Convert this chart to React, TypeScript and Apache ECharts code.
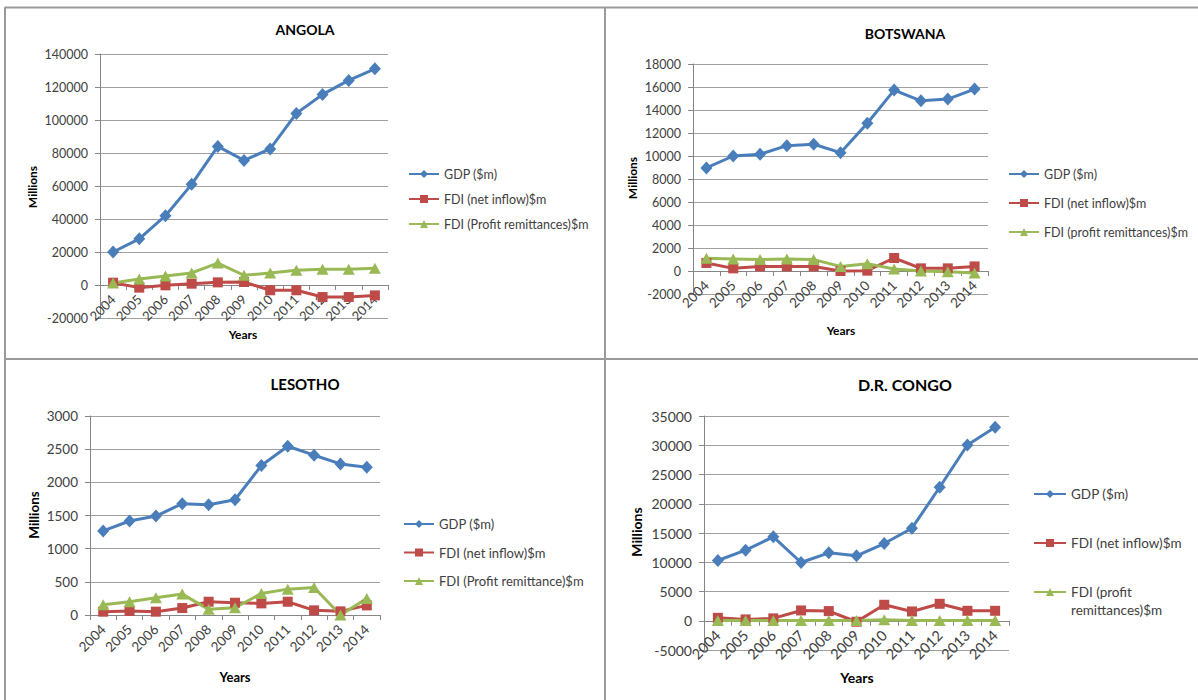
import React, { useEffect, useRef } from "react";
import * as echarts from "echarts";

// Years shared by all four country panels
const years = ["2004", "2005", "2006", "2007", "2008", "2009", "2010", "2011", "2012", "2013", "2014"];

// Angola ($ millions)
const angolaGdp = [20000, 28000, 42000, 61000, 84000, 75500, 82500, 104000, 115500, 124000, 131000];
const angolaFdiNet = [1400, -1600, -200, 800, 1600, 1800, -3200, -3200, -7300, -7300, -6300];
const angolaFdiProfit = [1200, 3600, 5500, 7300, 13300, 5900, 7300, 8900, 9500, 9500, 10100];

// Botswana ($ millions)
const botswanaGdp = [8960, 10000, 10150, 10900, 11020, 10290, 12850, 15730, 14800, 14950, 15820];
const botswanaFdiNet = [700, 230, 400, 400, 400, 0, 30, 1130, 230, 230, 400];
const botswanaFdiProfit = [1100, 1050, 990, 1050, 990, 400, 640, 175, 0, -60, -170];

// Lesotho ($ millions)
const lesothoGdp = [1267, 1417, 1492, 1678, 1662, 1738, 2253, 2544, 2409, 2278, 2228];
const lesothoFdiNet = [50, 60, 50, 105, 200, 185, 175, 200, 70, 55, 145];
const lesothoFdiProfit = [155, 200, 260, 315, 85, 110, 325, 390, 415, 0, 250];

// D.R. Congo ($ millions)
const drcGdp = [10300, 12070, 14340, 9960, 11610, 11100, 13200, 15820, 22820, 30050, 33070];
const drcFdiNet = [500, 230, 400, 1760, 1650, -170, 2730, 1590, 2900, 1700, 1700];
const drcFdiProfit = [30, 30, 30, 30, 30, 30, 150, 30, 30, 30, 30];

// Legend / series names
const GDP = "GDP ($m)";
const FDI_NET = "FDI (net inflow)$m";
const PROFIT_ANGOLA = "FDI (Profit remittances)$m";
const PROFIT_BOTSWANA = "FDI (profit remittances)$m";
const PROFIT_LESOTHO = "FDI (Profit remittance)$m";
const PROFIT_DRC = "FDI (profit remittances)$m";

const FONT = "Lato, 'Open Sans', sans-serif";
const BLUE = "#4A7EBB";
const RED = "#BE4B48";
const GREEN = "#98B954";
const TEXT = "#404040";
const AXIS = "#868686";
const GRIDLINE = "#a0a0a0";

type Panel = {
  title: string;
  titleX: number;
  titleY: number;
  titleSize: number;
  grid: { left: number; top: number; width: number; height: number };
  min: number;
  max: number;
  interval: number;
  labelSize: number;
  xLabelSize: number;
  gdp: number[];
  net: number[];
  profit: number[];
  profitName: string;
  millions: [number, number, number];
  yearsPos: [number, number, number];
};

const panels: Panel[] = [
  {
    title: "ANGOLA", titleX: 305, titleY: 29, titleSize: 14,
    grid: { left: 100, top: 54, width: 288, height: 264 },
    min: -20000, max: 140000, interval: 20000, labelSize: 12.5, xLabelSize: 13,
    gdp: angolaGdp, net: angolaFdiNet, profit: angolaFdiProfit, profitName: PROFIT_ANGOLA,
    millions: [32, 187, 12], yearsPos: [243, 334, 12],
  },
  {
    title: "BOTSWANA", titleX: 905, titleY: 33, titleSize: 14,
    grid: { left: 693, top: 64, width: 295, height: 230 },
    min: -2000, max: 18000, interval: 2000, labelSize: 12.5, xLabelSize: 13.5,
    gdp: botswanaGdp, net: botswanaFdiNet, profit: botswanaFdiProfit, profitName: PROFIT_BOTSWANA,
    millions: [632, 178, 12], yearsPos: [841, 330, 12],
  },
  {
    title: "LESOTHO", titleX: 305, titleY: 384, titleSize: 15,
    grid: { left: 90, top: 416, width: 290, height: 199 },
    min: 0, max: 3000, interval: 500, labelSize: 13.5, xLabelSize: 13.5,
    gdp: lesothoGdp, net: lesothoFdiNet, profit: lesothoFdiProfit, profitName: PROFIT_LESOTHO,
    millions: [34, 515, 13.5], yearsPos: [235, 677, 13],
  },
  {
    title: "D.R. CONGO", titleX: 905, titleY: 384, titleSize: 16,
    grid: { left: 704, top: 416, width: 305, height: 234 },
    min: -5000, max: 35000, interval: 5000, labelSize: 14, xLabelSize: 14.5,
    gdp: drcGdp, net: drcFdiNet, profit: drcFdiProfit, profitName: PROFIT_DRC,
    millions: [636, 532, 14], yearsPos: [857, 677, 14],
  },
];

function buildOption() {
  const grids = panels.map((p) => ({ ...p.grid, containLabel: false }));

  // The category axis crosses the value axis at zero, with its year labels just below that line.
  const xAxes = panels.map((p, i) => ({
    type: "category",
    gridIndex: i,
    data: years,
    boundaryGap: true,
    position: "bottom",
    offset: -(p.grid.height * (0 - p.min)) / (p.max - p.min),
    axisLine: { show: true, onZero: false, lineStyle: { color: AXIS, width: 1 } },
    axisTick: { show: true, length: 5, lineStyle: { color: AXIS } },
    axisLabel: {
      rotate: 45,
      margin: 12,
      interval: 0,
      fontSize: p.xLabelSize,
      color: TEXT,
      fontFamily: FONT,
    },
    splitLine: { show: false },
  }));

  const yAxes = panels.map((p, i) => ({
    type: "value",
    gridIndex: i,
    min: p.min,
    max: p.max,
    interval: p.interval,
    axisLine: { show: true, lineStyle: { color: AXIS, width: 1 } },
    axisTick: { show: true, length: 5, lineStyle: { color: AXIS } },
    axisLabel: {
      margin: 12,
      fontSize: p.labelSize,
      color: TEXT,
      fontFamily: FONT,
      formatter: (v: number) => String(v),
    },
    splitLine: { show: true, lineStyle: { color: GRIDLINE, width: 1 } },
  }));

  const series: any[] = [];
  panels.forEach((p, i) => {
    const common = {
      type: "line",
      xAxisIndex: i,
      yAxisIndex: i,
      showAllSymbol: true,
      emphasis: { disabled: true },
    };
    series.push({
      ...common,
      name: GDP,
      data: p.gdp,
      symbol: "diamond",
      symbolSize: [12, 13],
      itemStyle: { color: BLUE },
      lineStyle: { width: 3, color: BLUE },
    });
    series.push({
      ...common,
      name: FDI_NET,
      data: p.net,
      symbol: "rect",
      symbolSize: 10,
      itemStyle: { color: RED },
      lineStyle: { width: 3, color: RED },
    });
    series.push({
      ...common,
      name: p.profitName,
      data: p.profit,
      symbol: "triangle",
      symbolSize: [12, 11],
      itemStyle: { color: GREEN },
      lineStyle: { width: 3, color: GREEN },
    });
  });

  const legendBase = {
    orient: "vertical",
    padding: 0,
    itemWidth: 30,
    itemHeight: 10,
    selectedMode: false,
  };

  const legends: any[] = [
    {
      ...legendBase,
      left: 408, top: 166, itemGap: 9,
      data: [GDP, FDI_NET, PROFIT_ANGOLA],
      textStyle: { fontSize: 12.5, lineHeight: 16, color: TEXT, fontFamily: FONT },
    },
    {
      ...legendBase,
      left: 1008, top: 166, itemGap: 13,
      data: [GDP, FDI_NET, PROFIT_BOTSWANA],
      textStyle: { fontSize: 12.5, lineHeight: 16, color: TEXT, fontFamily: FONT },
    },
    {
      ...legendBase,
      left: 403, top: 515.5, itemGap: 11.5,
      data: [GDP, FDI_NET, PROFIT_LESOTHO],
      textStyle: { fontSize: 13, lineHeight: 17, color: TEXT, fontFamily: FONT },
    },
    {
      ...legendBase,
      left: 1033, top: 485, itemGap: 31, itemWidth: 32,
      data: [GDP, FDI_NET],
      textStyle: { fontSize: 13.5, lineHeight: 18, color: TEXT, fontFamily: FONT },
    },
    {
      ...legendBase,
      left: 1033, top: 565, itemWidth: 32,
      data: [PROFIT_DRC],
      formatter: () => " \nFDI (profit\nremittances)$m",
      textStyle: { fontSize: 13.5, lineHeight: 18, color: TEXT, fontFamily: FONT },
    },
  ];

  const frame = { stroke: "#9a9a9a", lineWidth: 2 };
  const graphic: any[] = [
    // panel frame lines
    { type: "line", shape: { x1: 5, y1: 7.5, x2: 1198, y2: 7.5 }, style: frame, silent: true },
    { type: "line", shape: { x1: 5, y1: 7, x2: 5, y2: 700 }, style: frame, silent: true },
    { type: "line", shape: { x1: 605, y1: 7, x2: 605, y2: 700 }, style: frame, silent: true },
    { type: "line", shape: { x1: 5, y1: 359, x2: 1198, y2: 359 }, style: frame, silent: true },
  ];

  panels.forEach((p) => {
    graphic.push({
      type: "text",
      x: p.titleX,
      y: p.titleY,
      silent: true,
      style: {
        text: p.title,
        fill: "#000",
        font: `bold ${p.titleSize}px ${FONT}`,
        align: "center",
        verticalAlign: "middle",
      },
    });
    graphic.push({
      type: "text",
      x: p.millions[0],
      y: p.millions[1],
      rotation: Math.PI / 2,
      silent: true,
      style: {
        text: "Millions",
        fill: "#000",
        font: `bold ${p.millions[2]}px ${FONT}`,
        align: "center",
        verticalAlign: "middle",
      },
    });
    graphic.push({
      type: "text",
      x: p.yearsPos[0],
      y: p.yearsPos[1],
      silent: true,
      style: {
        text: "Years",
        fill: "#000",
        font: `bold ${p.yearsPos[2]}px ${FONT}`,
        align: "center",
        verticalAlign: "middle",
      },
    });
  });

  return {
    animation: false,
    backgroundColor: "#ffffff",
    textStyle: { fontFamily: FONT },
    grid: grids,
    xAxis: xAxes,
    yAxis: yAxes,
    legend: legends,
    series,
    graphic,
  };
}

export default function App() {
  const ref = useRef<HTMLDivElement>(null);

  useEffect(() => {
    if (!ref.current) return;
    const chart = echarts.init(ref.current, undefined, { renderer: "svg" });
    chart.setOption(buildOption() as any);
    return () => chart.dispose();
  }, []);

  return (
    <div
      ref={ref}
      style={{ position: "absolute", left: 0, top: 0, width: 1198, height: 700, background: "#fff" }}
    />
  );
}
